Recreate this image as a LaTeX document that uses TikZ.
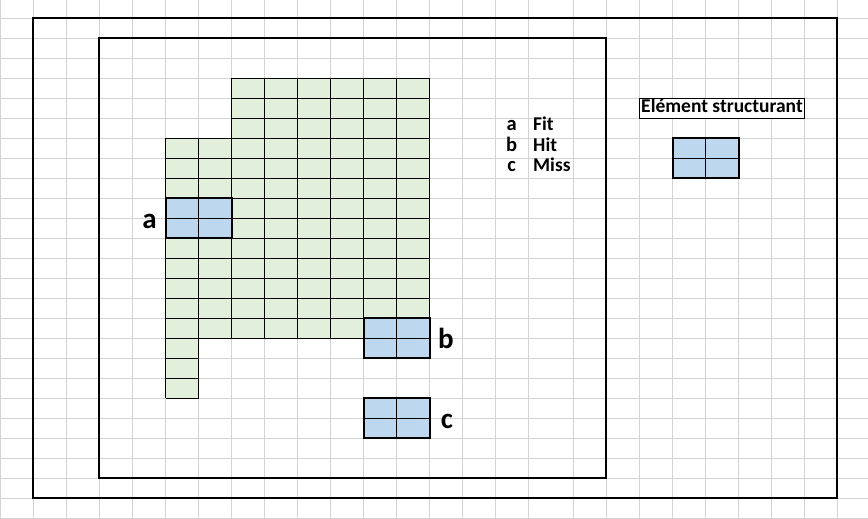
\documentclass[tikz,border=0pt]{standalone}
\usepackage{fontspec}
\setmainfont{Carlito}
\usepackage{tikz}
\definecolor{gridgray}{HTML}{D4D4D4}
\definecolor{cellgreen}{HTML}{E2EFDA}
\definecolor{cellblue}{HTML}{BDD7EE}

\begin{document}
\begin{tikzpicture}[x=1pt,y=-1pt,
  big/.style={font=\bfseries\fontsize{29}{29}\selectfont,inner sep=0,anchor=base},
  key/.style={font=\bfseries\fontsize{20.5}{20.5}\selectfont,inner sep=0,anchor=base},
  small/.style={font=\bfseries\fontsize{19.5}{19.5}\selectfont,inner sep=0,anchor=base}]
 \useasboundingbox (0,0) rectangle (868,519);
 \fill[white] (0,0) rectangle (868,519);
 \foreach \x in {0.5,33.5,...,528.5} \draw[gridgray] (\x,0) -- (\x,519);
 \foreach \x in {573.5,606.5,...,870.5} \draw[gridgray] (\x,0) -- (\x,519);
 \foreach \y in {-2,18,...,518} \draw[gridgray] (0,\y) -- (868,\y);
 \fill[cellgreen] (231.5,78) -- (429.5,78) -- (429.5,338) -- (198.5,338)
   -- (198.5,398) -- (165.5,398) -- (165.5,138) -- (231.5,138) -- cycle;
 \foreach \x/\y in {165.5/198,363.5/318,363.5/398,672.5/138}
   \fill[cellblue] (\x,\y) rectangle ++(66,40);
 \foreach \x in {231.5,264.5,...,429.5} \draw (\x,78) -- (\x,338);
 \draw (165.5,138) -- (165.5,398);
 \draw (198.5,138) -- (198.5,398);
 \foreach \y in {78,98,118} \draw (231.5,\y) -- (429.5,\y);
 \foreach \y in {138,158,...,338} \draw (165.5,\y) -- (429.5,\y);
 \foreach \y in {358,378,398} \draw (165.5,\y) -- (198.5,\y);
 \foreach \x/\y in {165.5/198,363.5/318,363.5/398,672.5/138} {
   \draw (\x+33,\y) -- ++(0,40);
   \draw (\x,\y+20) -- ++(66,0);
   \draw[line width=2pt] (\x,\y) rectangle ++(66,40);
 }
 \draw[line width=2pt] (33,18) rectangle (837,498);
 \draw[line width=2pt] (99,38) rectangle (606,478);
 \node[big] (la) at (149.5,228) {a};
 \node[big] (lb) at (446,348) {b};
 \node[big] (lc) at (447,428) {c};
 \node[key] (ka) at (511.7,131) {a};
 \node[key] (kb) at (511.7,151.5) {b};
 \node[key] (kc) at (511.7,171) {c};
 \node[small,anchor=base west] (fit) at (533,131) {Fit};
 \node[small,anchor=base west] (hit) at (533,151.5) {Hit};
 \node[small,anchor=base west] (miss) at (533,171) {Miss};
 \node[draw,fill=white,inner sep=0,minimum width=165pt,minimum height=20pt,
   text height=11pt,text depth=3pt,font=\bfseries\fontsize{19.5}{19.5}\selectfont]
   (se) at (722,108.3) {Elément structurant};
\end{tikzpicture}
\end{document}
